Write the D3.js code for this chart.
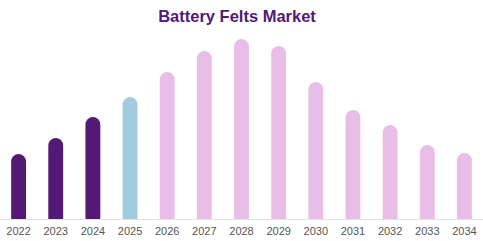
<!DOCTYPE html>
<html><head><meta charset="utf-8">
<script src="https://cdn.jsdelivr.net/npm/d3@7"></script>
<style>body{margin:0;background:#fff}svg{display:block}</style>
</head><body>
<svg id="c" width="483" height="241"></svg>
<script>
const years = ["2022","2023","2024","2025","2026","2027","2028","2029","2030","2031","2032","2033","2034"];
const values = [65, 81, 102, 122, 147, 168, 180, 173, 137, 109, 94, 74, 66];
const kinds = ["hist","hist","hist","base","fc","fc","fc","fc","fc","fc","fc","fc","fc"];
const colors = {hist:"#531a75", base:"#a3cbe0", fc:"#e8bde8"};

const svg = d3.select("#c");
const W = 483, base = 219;
const x = d3.scaleBand().domain(years).range([0, W]).paddingInner(0.6).paddingOuter(0.3);
const y = d3.scaleLinear().domain([0, 200]).range([base, base - 200]);

svg.append("text").attr("x", 237).attr("y", 22).attr("text-anchor", "middle")
  .attr("font-family", "Liberation Sans, Arial, sans-serif").attr("font-weight", "bold")
  .attr("font-size", 16.5).attr("fill", "#521a78").text("Battery Felts Market");

svg.append("line").attr("x1", 0).attr("x2", W).attr("y1", base + 0.5).attr("y2", base + 0.5)
  .attr("stroke", "#e2e2e2").attr("stroke-width", 1);

function barPath(x0, w, yTop, yBot) {
  const r = w / 2;
  return `M${x0},${yBot} L${x0},${yTop + r} A${r},${r} 0 0 1 ${x0 + w},${yTop + r} L${x0 + w},${yBot} Z`;
}

svg.selectAll("path.bar").data(years).join("path").attr("class", "bar")
  .attr("d", (d, i) => barPath(x(d), x.bandwidth(), y(values[i]), base))
  .attr("fill", (d, i) => colors[kinds[i]]);

const ax = svg.append("g").attr("transform", `translate(0,${base})`)
  .call(d3.axisBottom(x).tickSize(0).tickPadding(8));
ax.select(".domain").remove();
ax.selectAll("text").attr("font-family", "Liberation Sans, Arial, sans-serif")
  .attr("font-size", 11).attr("fill", "#555");
</script>
</body></html>
